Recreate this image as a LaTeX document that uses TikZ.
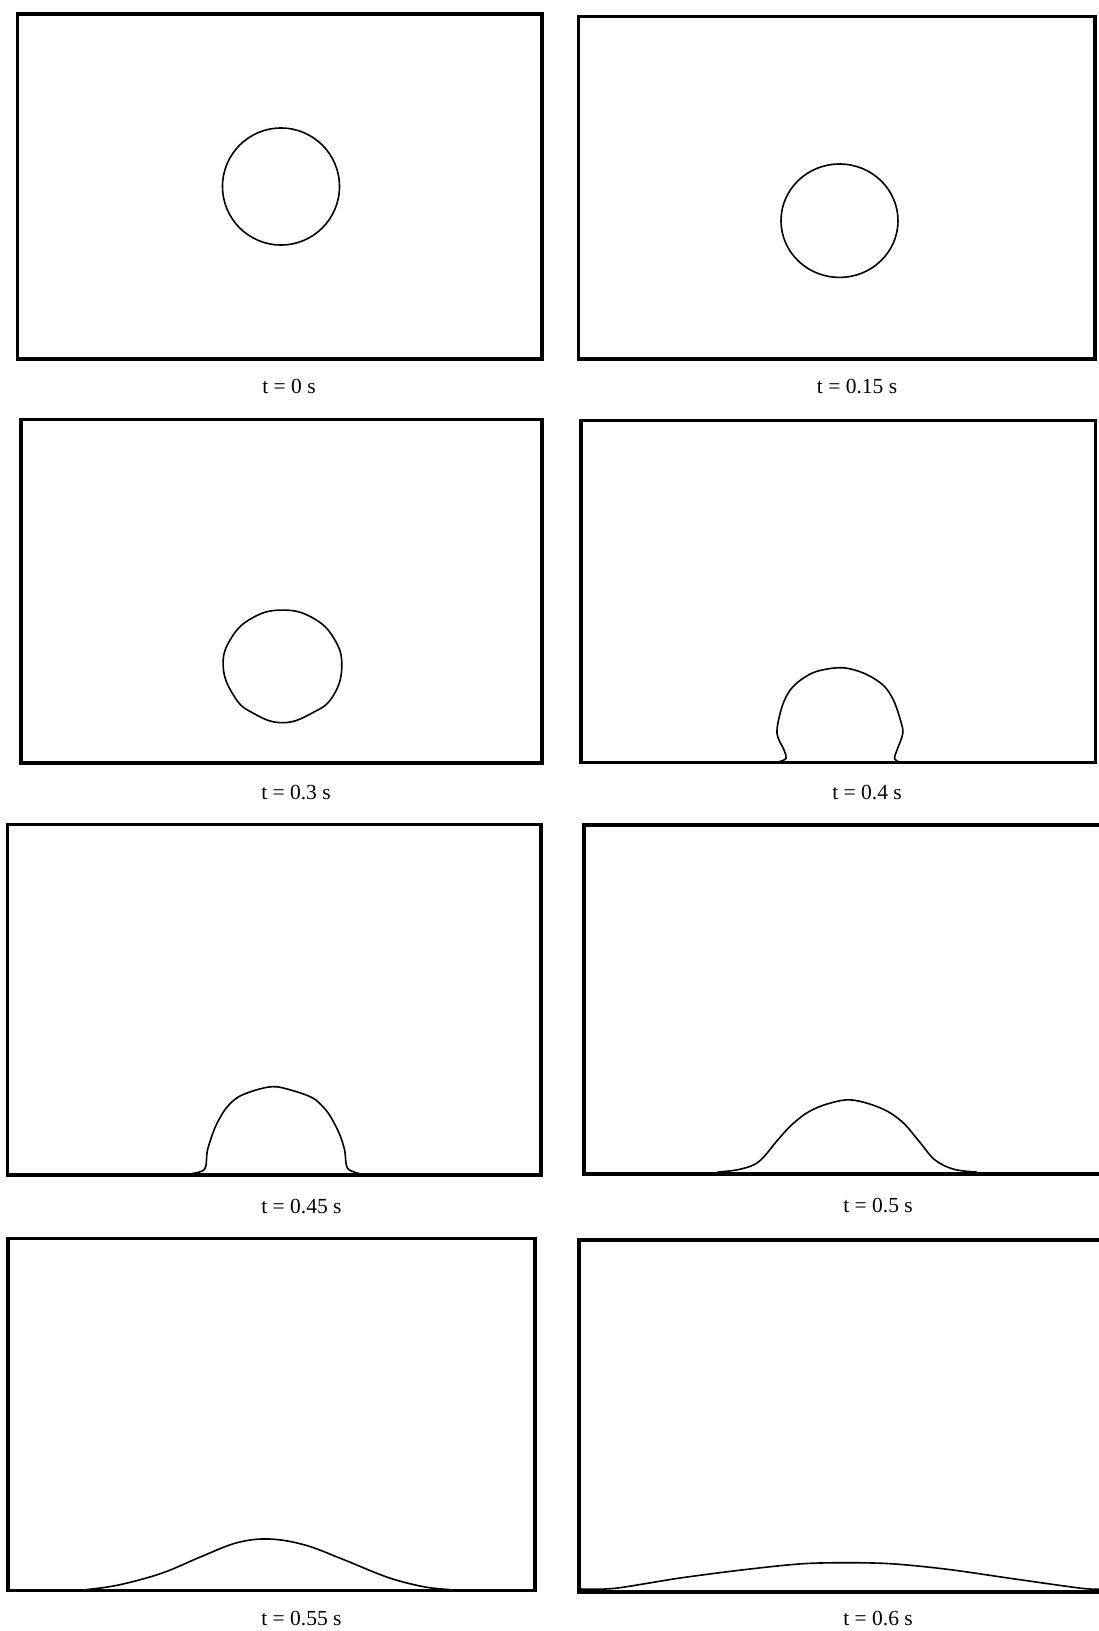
\documentclass[tikz,border=0pt]{standalone}
\usepackage{fontspec}
\setmainfont{Liberation Serif}
\begin{document}
\begin{tikzpicture}[x=1pt,y=-1pt,
  frame/.style={line width=3.2pt, line join=miter},
  drop/.style={line width=1.6pt, line join=round, line cap=round},
  lab/.style={font=\fontsize{21.5}{25}\selectfont, inner sep=0pt, anchor=center}]
\useasboundingbox (0,0) rectangle (1099,1631);
\clip (0,0) rectangle (1099,1631);
\fill[white] (0,0) rectangle (1099,1631);

% frames
\draw[frame] (17.5,14) rectangle (542,359);
\draw[frame] (578.5,16.5) rectangle (1095,359);
\draw[frame] (21,419.5) rectangle (542,763);
\draw[frame] (581,420.5) rectangle (1095.5,762.5);
\draw[frame] (7.5,824.5) rectangle (541,1175);
\draw[frame] (584,825) rectangle (1115,1174);
\draw[frame] (8,1238.5) rectangle (535,1590.5);
\draw[frame] (579,1240) rectangle (1115,1592);

% t = 0
\draw[drop] (281,186.5) circle (58.5);
% t = 0.15
\draw[drop] (839.5,220.7) ellipse [x radius=58.5, y radius=56.7];
% t = 0.3
\draw[drop] plot[smooth cycle, tension=0.75] coordinates {
  (282.5,610.1) (312.2,617.6) (333.9,638.3) (341.8,666.4) (333,696)
  (313,712.5) (282.5,722.7) (252,712.5) (234,696) (223.2,666.4)
  (231.1,638.3) (252.9,617.6)};
% t = 0.4
\draw[drop] plot[smooth, tension=0.55] coordinates {
  (778,762) (786,758.5) (784,750) (777,733.3) (781,710) (788,693.3)
  (798.4,681.7) (815.7,671.7) (841.6,667.7) (864,673.3) (883,685)
  (893.4,700) (900.4,720) (902.8,733.3) (897,750) (894.5,758.3) (899,762)};
% t = 0.45
\draw[drop] plot[smooth, tension=0.5] coordinates {
  (189,1174) (204.6,1169.3) (207.5,1150) (215.4,1126.7) (226,1108.3)
  (238.7,1096.7) (258.4,1089.3) (276.4,1086.7) (301.5,1093.3) (315.9,1100)
  (328.4,1113.3) (339.2,1133.3) (344.6,1150) (347.5,1168.3) (361,1174)};
% t = 0.5
\draw[drop] plot[smooth, tension=0.6] coordinates {
  (718,1172) (739.7,1169.3) (758.7,1161.7) (777.7,1140) (791.5,1125)
  (808.8,1111.7) (829.5,1103.3) (852,1100) (881.3,1108.3) (902,1121.7)
  (919.4,1141.7) (935,1160) (954,1169.3) (976.4,1172)};
% t = 0.55
\draw[drop] plot[smooth, tension=0.6] coordinates {
  (87,1589.5) (118.5,1585) (161.5,1573.3) (201,1556.7) (237,1542.7)
  (269.2,1539) (305,1545) (344.6,1560) (387.6,1577.3) (423.5,1586.7) (449,1589.5)};
% t = 0.6
\draw[drop] plot[smooth, tension=0.5] coordinates {
  (581,1589) (615,1588.3) (680,1578) (750,1569) (810.5,1563.3)
  (883,1563.3) (945,1569) (1015,1579) (1081.8,1588.3) (1102,1589)};

% labels
\node[lab] (l1) at (289,386) {t = 0 s};
\node[lab] (l2) at (857,386) {t = 0.15 s};
\node[lab] (l3) at (296,792) {t = 0.3 s};
\node[lab] (l4) at (867,792) {t = 0.4 s};
\node[lab] (l5) at (301.5,1206) {t = 0.45 s};
\node[lab] (l6) at (878,1205) {t = 0.5 s};
\node[lab] (l7) at (301.5,1618) {t = 0.55 s};
\node[lab] (l8) at (878,1618) {t = 0.6 s};
\end{tikzpicture}
\end{document}
